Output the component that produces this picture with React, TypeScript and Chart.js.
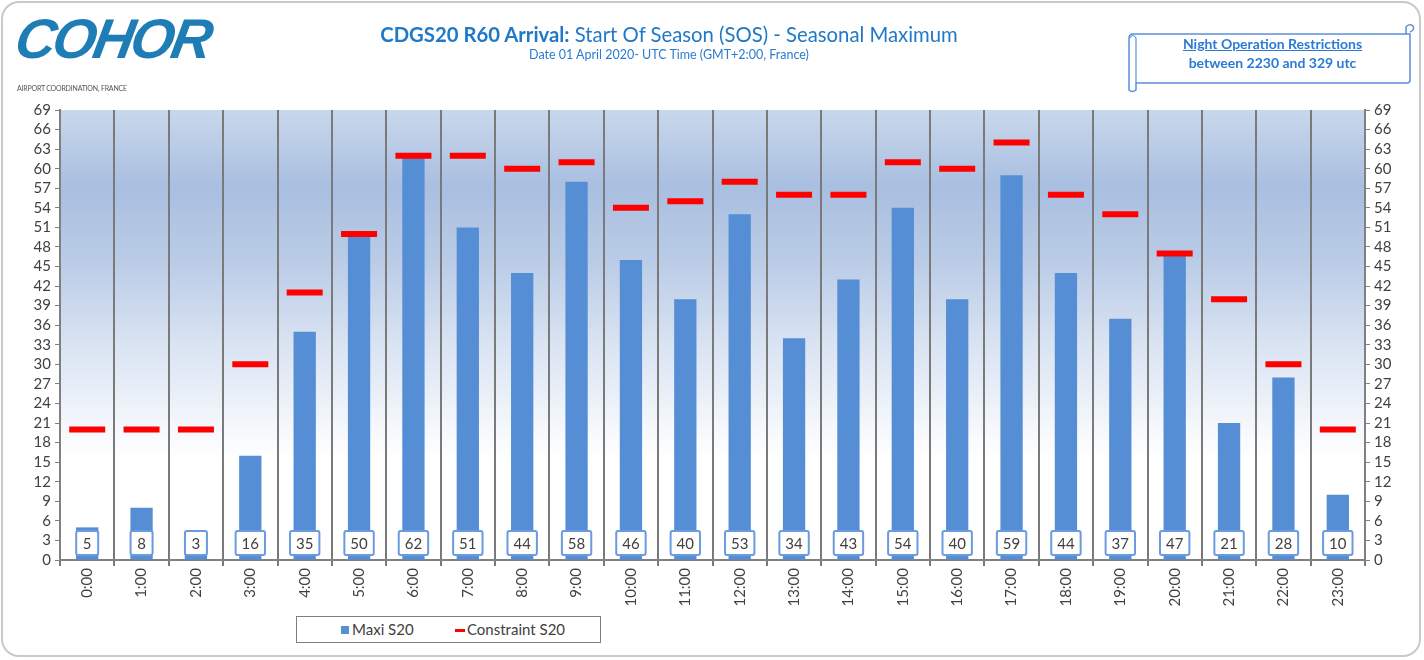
import React, { useEffect, useRef } from "react";
import { Chart, registerables } from "chart.js";
Chart.register(...registerables);

const hours = ["0:00","1:00","2:00","3:00","4:00","5:00","6:00","7:00","8:00","9:00","10:00","11:00","12:00","13:00","14:00","15:00","16:00","17:00","18:00","19:00","20:00","21:00","22:00","23:00"];
const maxiS20 = [5,8,3,16,35,50,62,51,44,58,46,40,53,34,43,54,40,59,44,37,47,21,28,10];
const constraintS20 = [20,20,20,30,41,50,62,62,60,61,54,55,58,56,56,61,60,64,56,53,47,40,30,20];
const yMin = 0;
const yMax = 69;
const yStep = 3;

const FONT = "Lato, 'Open Sans', sans-serif";
const BAR_BLUE = "#558ed5";
const TEXT_GREY = "#404040";

const bgPlugin = {
  id: "plotBg",
  beforeDraw(chart: any) {
    const { ctx, chartArea: a } = chart;
    if (!a) return;
    const g = ctx.createLinearGradient(0, a.top, 0, a.bottom);
    g.addColorStop(0, "#c8d7ec");
    g.addColorStop(0.17, "#a9bfe0");
    g.addColorStop(0.33, "#b9cbe6");
    g.addColorStop(0.52, "#d9e3f2");
    g.addColorStop(0.68, "#f1f5fb");
    g.addColorStop(0.78, "#ffffff");
    g.addColorStop(1, "#ffffff");
    ctx.save();
    ctx.fillStyle = g;
    ctx.fillRect(a.left, a.top, a.right - a.left, a.bottom - a.top);
    ctx.restore();
  },
};

const boxPlugin = {
  id: "valueBoxes",
  afterDatasetsDraw(chart: any) {
    const meta = chart.getDatasetMeta(0);
    const ctx = chart.ctx;
    const yc = chart.scales.y.getPixelForValue(2.6);
    ctx.save();
    ctx.font = `15px ${FONT}`;
    ctx.textAlign = "center";
    ctx.textBaseline = "middle";
    meta.data.forEach((el: any, i: number) => {
      const txt = String(maxiS20[i]);
      const tw = ctx.measureText(txt).width;
      const w = Math.max(22, tw + 12);
      const h = 24;
      const x0 = el.x - w / 2;
      const y0 = yc - h / 2;
      ctx.fillStyle = "#ffffff";
      ctx.strokeStyle = "#6a9be0";
      ctx.lineWidth = 2;
      ctx.beginPath();
      const r = 2;
      ctx.moveTo(x0 + r, y0);
      ctx.lineTo(x0 + w - r, y0);
      ctx.quadraticCurveTo(x0 + w, y0, x0 + w, y0 + r);
      ctx.lineTo(x0 + w, y0 + h - r);
      ctx.quadraticCurveTo(x0 + w, y0 + h, x0 + w - r, y0 + h);
      ctx.lineTo(x0 + r, y0 + h);
      ctx.quadraticCurveTo(x0, y0 + h, x0, y0 + h - r);
      ctx.lineTo(x0, y0 + r);
      ctx.quadraticCurveTo(x0, y0, x0 + r, y0);
      ctx.closePath();
      ctx.fill();
      ctx.stroke();
      ctx.fillStyle = TEXT_GREY;
      ctx.fillText(txt, el.x, yc + 1);
    });
    ctx.restore();
  },
};

export default function App() {
  const ref = useRef<HTMLCanvasElement | null>(null);

  useEffect(() => {
    document.body.style.margin = "0";
    if (!ref.current) return;
    const yTickCfg = {
      min: yMin,
      max: yMax,
      ticks: { stepSize: yStep, autoSkip: false, color: TEXT_GREY, font: { family: FONT, size: 15 }, padding: 4 },
      grid: { drawOnChartArea: false, drawTicks: true, tickLength: 5, color: "#808080", lineWidth: 1 },
      border: { display: true, color: "#808080", width: 2 },
    };
    const chart = new Chart(ref.current, {
      type: "bar",
      data: {
        labels: hours,
        datasets: [
          {
            type: "bar",
            label: "Maxi S20",
            data: maxiS20,
            backgroundColor: BAR_BLUE,
            borderWidth: 0,
            barPercentage: 0.41,
            categoryPercentage: 1,
            order: 2,
            yAxisID: "y",
          },
          {
            type: "line",
            label: "Constraint S20",
            data: constraintS20,
            showLine: false,
            pointStyle: "line",
            pointRadius: 18,
            pointHoverRadius: 18,
            borderColor: "#ff0000",
            backgroundColor: "#ff0000",
            pointBorderWidth: 6,
            borderWidth: 6,
            order: 1,
            yAxisID: "y",
          },
        ] as any,
      },
      options: {
        animation: false,
        responsive: false,
        maintainAspectRatio: false,
        layout: { padding: { top: 110, left: 0, right: 0, bottom: 0 } },
        plugins: { legend: { display: false }, tooltip: { enabled: false }, title: { display: false } },
        scales: {
          x: {
            offset: true,
            ticks: {
              autoSkip: false,
              minRotation: 90,
              maxRotation: 90,
              color: TEXT_GREY,
              font: { family: FONT, size: 15 },
              padding: 2,
            },
            grid: { offset: true, drawOnChartArea: true, tickLength: 6, color: "#7a7a7a", lineWidth: 2 },
            border: { display: true, color: "#808080", width: 2 },
            afterFit: (s: any) => { s.height = 100; },
          },
          y: { position: "left", ...yTickCfg, afterFit: (s: any) => { s.width = 60; } },
          y2: { position: "right", ...yTickCfg, afterFit: (s: any) => { s.width = 59; } },
        } as any,
      },
      plugins: [bgPlugin, boxPlugin],
    });
    return () => chart.destroy();
  }, []);

  return (
    <div style={{ position: "relative", width: 1424, height: 660, background: "#fff", overflow: "hidden", fontFamily: FONT }}>
      <div style={{ position: "absolute", left: 1, top: 1, width: 1420, height: 656, border: "2px solid #c9c9c9", borderRadius: 18, boxSizing: "border-box" }} />
      <canvas ref={ref} width={1424} height={660} style={{ position: "absolute", left: 0, top: 0, width: 1424, height: 660 }} />
      {/* Logo */}
      <div style={{ position: "absolute", left: 16, top: 6, fontFamily: "'Liberation Sans', sans-serif", fontWeight: 700, fontStyle: "italic", fontSize: 56, color: "#1f7db6", letterSpacing: -3, transform: "skewX(-10deg)", lineHeight: "66px" }}>COHOR</div>
      <div style={{ position: "absolute", left: 17, top: 84, fontSize: 7, color: "#555", letterSpacing: -0.2 }}>AIRPORT COORDINATION, FRANCE</div>
      {/* Title */}
      <div style={{ position: "absolute", left: 369, top: 21, width: 600, textAlign: "center", fontSize: 20.3, color: "#1f78c8", whiteSpace: "nowrap", lineHeight: "26px" }}>
        <span style={{ fontWeight: 700 }}>CDGS20 R60 Arrival:</span> Start Of Season (SOS) - Seasonal Maximum
      </div>
      <div style={{ position: "absolute", left: 369, top: 47, width: 600, textAlign: "center", fontSize: 12.5, color: "#2b7cd0", whiteSpace: "nowrap" }}>
        Date 01 April 2020- UTC Time (GMT+2:00, France)
      </div>
      {/* Night box */}
      <svg style={{ position: "absolute", left: 1120, top: 20 }} width={304} height={80}>
        <path d="M 11 14 L 290 14 L 290 60 Q 290 63 287 63 L 16 63 L 16 70 Q 12 73 9 70 L 9 18 Q 9 14 13 14 Z" fill="#fff" stroke="#5b8fd9" strokeWidth={1.5} />
        <path d="M 286 14 L 286 7 Q 289 3 293 6 Q 295 10 290 12" fill="none" stroke="#5b8fd9" strokeWidth={1.5} />
        <path d="M 10 18 Q 13 13 16 18 L 16 63" fill="none" stroke="#5b8fd9" strokeWidth={1.2} />
      </svg>
      <div style={{ position: "absolute", left: 1140, top: 34, width: 265, textAlign: "center", fontSize: 14, fontWeight: 700, color: "#2a7ad6", lineHeight: "19px" }}>
        <div style={{ textDecoration: "underline" }}>Night Operation Restrictions</div>
        <div>between 2230 and 329 utc</div>
      </div>
      {/* Legend */}
      <div style={{ position: "absolute", left: 296, top: 616, width: 305, height: 27, border: "1px solid #7f7f7f", boxSizing: "border-box", background: "#fff" }}>
        <div style={{ position: "absolute", left: 44, top: 9, width: 8, height: 8, background: BAR_BLUE }} />
        <div style={{ position: "absolute", left: 55, top: 3, fontSize: 15, color: TEXT_GREY, lineHeight: "18px" }}>Maxi S20</div>
        <div style={{ position: "absolute", left: 158, top: 12, width: 10, height: 3, background: "#ff0000" }} />
        <div style={{ position: "absolute", left: 170, top: 3, fontSize: 15, color: TEXT_GREY, lineHeight: "18px" }}>Constraint S20</div>
      </div>
    </div>
  );
}
